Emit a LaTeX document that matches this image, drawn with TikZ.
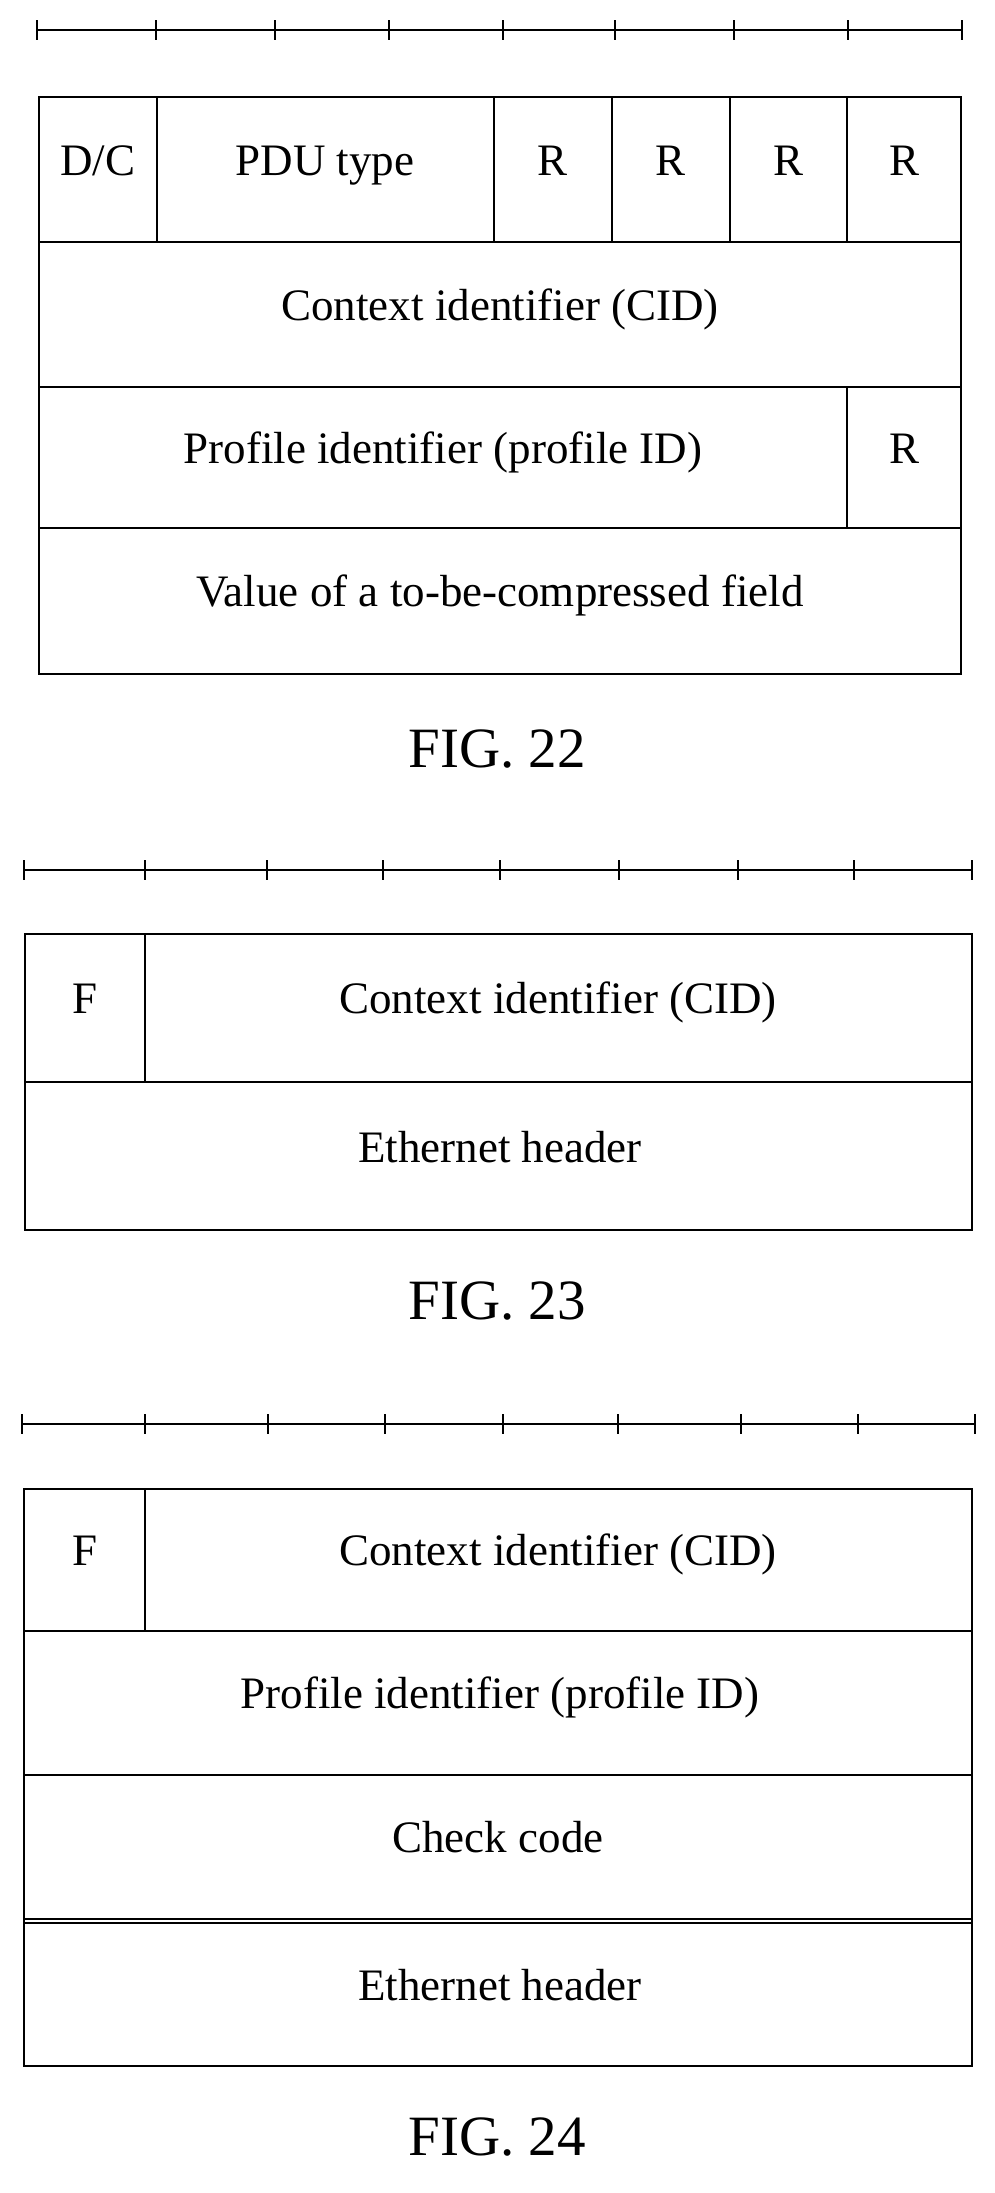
\documentclass[tikz,border=0pt]{standalone}
\usepackage{fontspec}
\setmainfont{Liberation Serif}
\begin{document}
\begin{tikzpicture}[x=1pt,y=-1pt,line width=2.8pt,
  lab/.style={font=\fontsize{45}{48}\selectfont,text height=1.2em,text depth=0.1em,inner sep=0pt},
  fig/.style={font=\fontsize{57}{60}\selectfont,text height=1.15em,text depth=0.1em,inner sep=0pt}]
\useasboundingbox (0,0) rectangle (994,2193);
% ---- FIG 22
\draw (37,30) -- (962,30);
\foreach \x in {37,156,275,389,503,615,734,848,962} \draw[line width=2pt] (\x,20) -- (\x,40);
\draw (39,97) rectangle (961,674);
\foreach \y in {242,387,528} \draw (39,\y) -- (961,\y);
\foreach \x in {157,494,612,730,847} \draw (\x,97) -- (\x,242);
\draw (847,387) -- (847,528);
\node[lab] (dc) at (98,170) {D/C};
\node[lab] (pdu) at (325,170) {PDU type};
\node[lab] (r1) at (553,170) {R};
\node[lab] (r2) at (671,170) {R};
\node[lab] (r3) at (788,170) {R};
\node[lab] (r4) at (904,170) {R};
\node[lab] (cid) at (500,315) {Context identifier (CID)};
\node[lab] (pid) at (443,458) {Profile identifier (profile ID)};
\node[lab] (r5) at (904,458) {R};
\node[lab] (val) at (500,601) {Value of a to-be-compressed field};
\node[fig] (f22) at (497,762) {FIG. 22};
% ---- FIG 23
\draw (24,870) -- (972,870);
\foreach \x in {24,145,267,383,500,619,738,854,972} \draw[line width=2pt] (\x,860) -- (\x,880);
\draw (25,934) rectangle (972,1230);
\draw (25,1082) -- (972,1082);
\draw (145,934) -- (145,1082);
\node[lab] (f3) at (85,1008) {F};
\node[lab] (cid3) at (558,1008) {Context identifier (CID)};
\node[lab] (eth3) at (500,1157) {Ethernet header};
\node[fig] (f23) at (497,1314) {FIG. 23};
% ---- FIG 24
\draw (22,1424) -- (975,1424);
\foreach \x in {22,145,268,385,503,618,741,858,975} \draw[line width=2pt] (\x,1414) -- (\x,1434);
\draw (24,1489) rectangle (972,2066);
\foreach \y in {1631,1775} \draw (24,\y) -- (972,\y);
\draw (24,1919) -- (972,1919);
\draw (24,1923) -- (972,1923);
\draw (145,1489) -- (145,1631);
\node[lab] (f4) at (85,1560) {F};
\node[lab] (cid4) at (558,1560) {Context identifier (CID)};
\node[lab] (pid4) at (500,1703) {Profile identifier (profile ID)};
\node[lab] (chk) at (498,1847) {Check code};
\node[lab] (eth4) at (500,1995) {Ethernet header};
\node[fig] (f24) at (497,2150) {FIG. 24};
\end{tikzpicture}
\end{document}
